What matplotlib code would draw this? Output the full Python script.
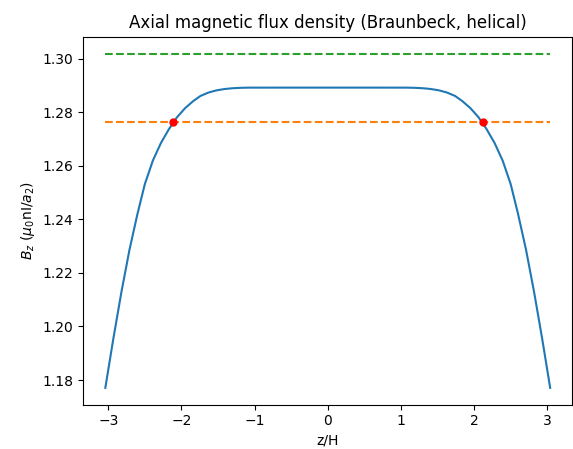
import matplotlib
matplotlib.use("Agg")
import matplotlib.pyplot as plt

# Axial field curve
z = [-3.04, -2.93, -2.82, -2.71, -2.60, -2.50, -2.39, -2.28, -2.17, -2.06, -1.95,
     -1.84, -1.74, -1.63, -1.52, -1.41, -1.30, -1.19, -1.08, -0.60, 0.00,
     0.60, 1.08, 1.19, 1.30, 1.41, 1.52, 1.63, 1.74, 1.84,
     1.95, 2.06, 2.17, 2.28, 2.39, 2.50, 2.60, 2.71, 2.82, 2.93, 3.04]
bz = [1.17708, 1.19551, 1.21288, 1.22865, 1.24213, 1.25318, 1.26199, 1.26854, 1.27375, 1.27816, 1.28154,
      1.28416, 1.28610, 1.28738, 1.28820, 1.28869, 1.28899, 1.28914, 1.28921, 1.28922, 1.28922,
      1.28922, 1.28921, 1.28914, 1.28899, 1.28869, 1.28820, 1.28738, 1.28610, 1.28416,
      1.28154, 1.27816, 1.27375, 1.26854, 1.26199, 1.25318, 1.24213, 1.22865, 1.21288, 1.19551, 1.17708]

ref_level = 1.2764      # orange dashed
upper_level = 1.30195   # green dashed
cross_z = [-2.12, 2.12]
cross_b = [1.2764, 1.2764]

fig = plt.figure(figsize=(5.73, 4.49), dpi=100)
ax = fig.add_axes([0.145, 0.099, 0.854, 0.819])

ax.plot(z, bz, color="C0", lw=1.5)
ax.plot([z[0], z[-1]], [ref_level, ref_level], "--", color="C1")
ax.plot([z[0], z[-1]], [upper_level, upper_level], "--", color="C2")
ax.plot(cross_z, cross_b, "o", color="red", markersize=5)

ax.set_title("Axial magnetic flux density (Braunbeck, helical)")
ax.set_xlabel("z/H")
ax.set_ylabel(r"$B_z$ ($\mu_0$nI/$a_2$)")

fig.savefig("out.png", dpi=100)
